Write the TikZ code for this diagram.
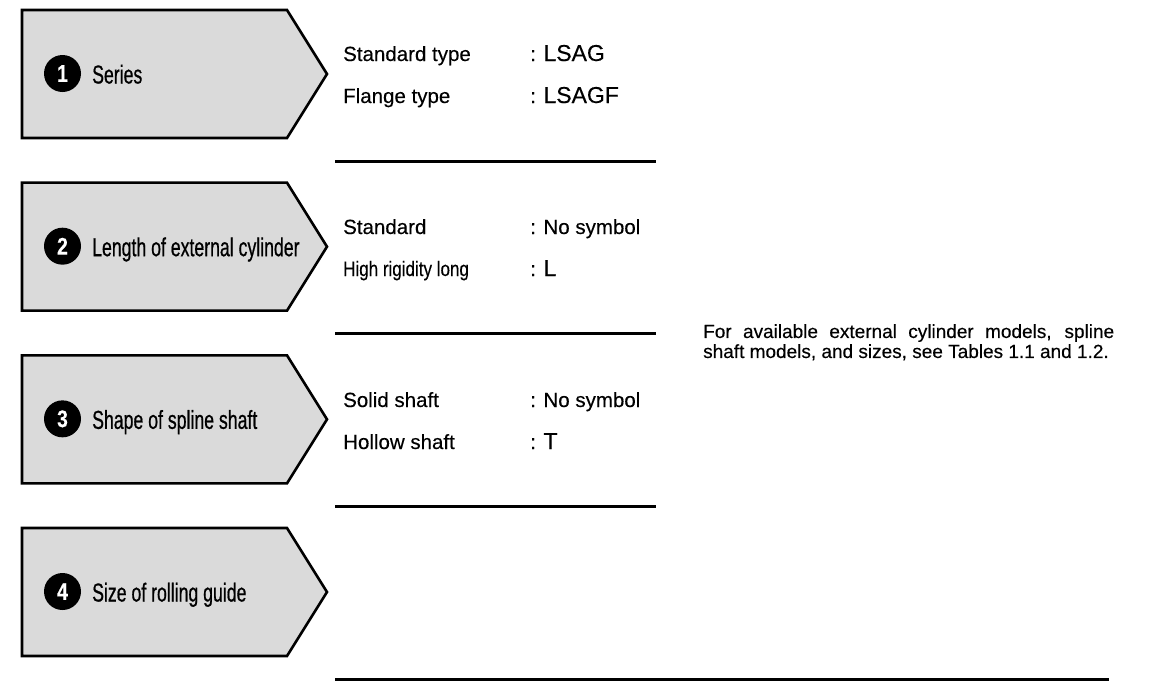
\documentclass[tikz,border=0pt]{standalone}
\usepackage{fontspec}
\setmainfont{Liberation Sans}
\newfontfamily\condfont[FakeStretch=0.68,FakeBold=0.6]{Liberation Sans}
\newfontfamily\medfont[FakeBold=0.3]{Liberation Sans}
\newfontfamily\medcondfont[FakeStretch=0.81,FakeBold=0.2]{Liberation Sans}
\usetikzlibrary{positioning}
\definecolor{tabgray}{RGB}{218,218,218}
\newcommand{\bigsym}[1]{{\fontsize{23}{23}\selectfont #1}}
\tikzset{
  tab/.style={fill=tabgray, draw=black, line width=2.6pt, line join=miter},
  numdot/.style={circle, fill=black, text=white, inner sep=0pt, minimum size=37pt,
    font=\medcondfont\bfseries\fontsize{24}{24}\selectfont},
  tabtext/.style={anchor=base west, inner sep=0pt, font=\condfont\fontsize{26}{28}\selectfont},
  itemtext/.style={anchor=base west, inner sep=0pt, font=\medfont\fontsize{20.5}{22}\selectfont},
  rulebar/.style={line width=3pt},
}
\begin{document}
\begin{tikzpicture}[x=1pt, y=-1pt]
  \useasboundingbox (0,0) rectangle (1156,681);
  % Tabs with number and title, rule under each row
  \foreach \i/\title/\xend in {1/Series/656, 2/Length of external cylinder/656,
      3/Shape of spline shaft/656, 4/Size of rolling guide/1109} {
    \pgfmathsetmacro{\ytop}{10+(\i-1)*172.67}
    \draw[tab] (22,\ytop) -- (287,\ytop) -- (327,\ytop+64) -- (287,\ytop+128)
      -- (22,\ytop+128) -- cycle;
    \node[numdot] (num\i) at (62.5,\ytop+63.5) {\i};
    \node[tabtext] (title\i) at (92,\ytop+73.5) {\title};
    \draw[rulebar] (335,\ytop+151) -- (\xend,\ytop+151);
  }
  % Row 1
  \node[itemtext] (std) at (343,61) {Standard type};
  \node[itemtext] (stdv) at (530,61) {: \bigsym{LSAG}};
  \node[itemtext] (flg) at (343,103) {Flange type};
  \node[itemtext] (flgv) at (530,103) {: \bigsym{LSAGF}};
  % Row 2
  \node[itemtext] (stdlen) at (343,234) {Standard};
  \node[itemtext] (stdlenv) at (530,234) {: No symbol};
  \node[itemtext, font=\medcondfont\fontsize{21}{22}\selectfont] (hrl) at (343,276) {High rigidity long};
  \node[itemtext] (hrlv) at (530,276) {: \bigsym{L}};
  % Row 3
  \node[itemtext] (solid) at (343,407) {Solid shaft};
  \node[itemtext] (solidv) at (530,407) {: No symbol};
  \node[itemtext] (hollow) at (343,449) {Hollow shaft};
  \node[itemtext] (hollowv) at (530,449) {: \bigsym{T}};
  % Note on the right
  \node[anchor=north west, inner sep=0pt, text width=411pt, align=justify,
    font=\medfont\fontsize{19}{20}\selectfont] (note) at (703,324)
    {For available external cylinder models, spline shaft models, and sizes, see Tables 1.1 and 1.2.};
\end{tikzpicture}
\end{document}
